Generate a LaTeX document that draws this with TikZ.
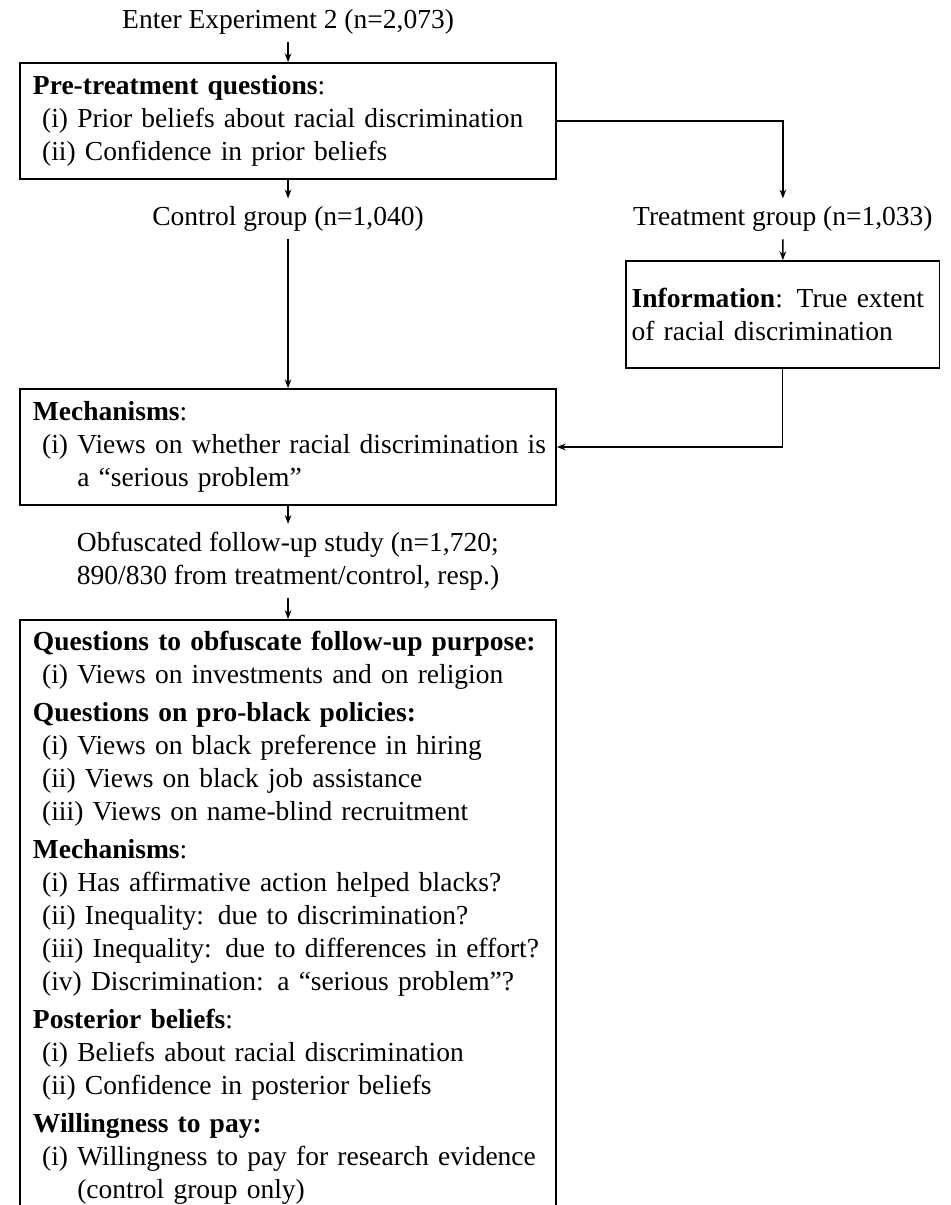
\documentclass[tikz,border=0pt]{standalone}
\usepackage{fontspec}
\setmainfont{Liberation Serif}
\usetikzlibrary{arrows.meta}

\newcommand{\itm}[1]{\ (#1)~}
\newcommand{\hng}[1]{\ \phantom{(#1)}~}

\begin{document}
\begin{tikzpicture}[x=1pt,y=-1pt,
    box/.style={draw, line width=0.6pt, align=left, inner xsep=4.7pt, inner ysep=4.2pt, text width=185.5pt, minimum height=42.2pt},
    infobox/.style={box, inner xsep=2pt, text width=109.9pt, minimum height=38.9pt},
    lbl/.style={inner xsep=0pt, inner ysep=2.7pt},
    arr/.style={-{Stealth[length=3.2pt,width=2.4pt]}, line width=0.5pt}]
    \useasboundingbox (0,0) rectangle (345.5,438.2);

    \node[lbl] at (104.75,8) (enter) {Enter Experiment 2 (n=2,073)};
    \node[box] at (104.75,44) (pretreat) {\textbf{Pre-treatment questions}:\\ \itm{i}Prior beliefs about racial discrimination\\ \itm{ii}Confidence in prior beliefs};
    \node[lbl] at (104.75,79.6) (control) {Control group (n=1,040)};
    \node[lbl] at (284.7,79.6) (treat) {Treatment group (n=1,033)};
    \node[infobox] at (284.65,114.35) (info) {\mbox{\textbf{Information}: True extent}\\ of racial discrimination};
    \node[box] at (104.75,162.55) (mech) {\textbf{Mechanisms}:\\ \mbox{\itm{i}Views on whether racial discrimination is}\\ \hng{i}a “serious problem”};
    \node[lbl, align=left] at (104.75,204) (followup) {Obfuscated follow-up study (n=1,720;\\ 890/830 from treatment/control, resp.)};
    \node[box, anchor=north] at (104.75,225.1) (followbox) {\textbf{Questions to obfuscate follow-up purpose:}\\
        \itm{i}Views on investments and on religion\\[1.8pt]
        \textbf{Questions on pro-black policies:}\\
        \itm{i}Views on black preference in hiring\\
        \itm{ii}Views on black job assistance\\
        \itm{iii}Views on name-blind recruitment\\[1.8pt]
        \textbf{Mechanisms}:\\
        \itm{i}Has affirmative action helped blacks?\\
        \itm{ii}Inequality: due to discrimination?\\
        \mbox{\itm{iii}Inequality: due to differences in effort?}\\
        \itm{iv}Discrimination: a “serious problem”?\\[1.8pt]
        \textbf{Posterior beliefs}:\\
        \itm{i}Beliefs about racial discrimination\\
        \itm{ii}Confidence in posterior beliefs\\[1.8pt]
        \textbf{Willingness to pay:}\\
        \mbox{\itm{i}Willingness to pay for research evidence}\\
        \hng{i}(control group only)};

    \draw[arr] (enter) -- (pretreat);
    \draw[arr] (pretreat) -- (control);
    \draw[arr] (pretreat.east) -| (treat.north);
    \draw[arr] (control) -- (mech);
    \draw[arr] (treat) -- (info);
    \draw[arr] (info.south) |- (mech.east);
    \draw[arr] (mech) -- (followup);
    \draw[arr] (followup) -- (followbox);
\end{tikzpicture}
\end{document}
